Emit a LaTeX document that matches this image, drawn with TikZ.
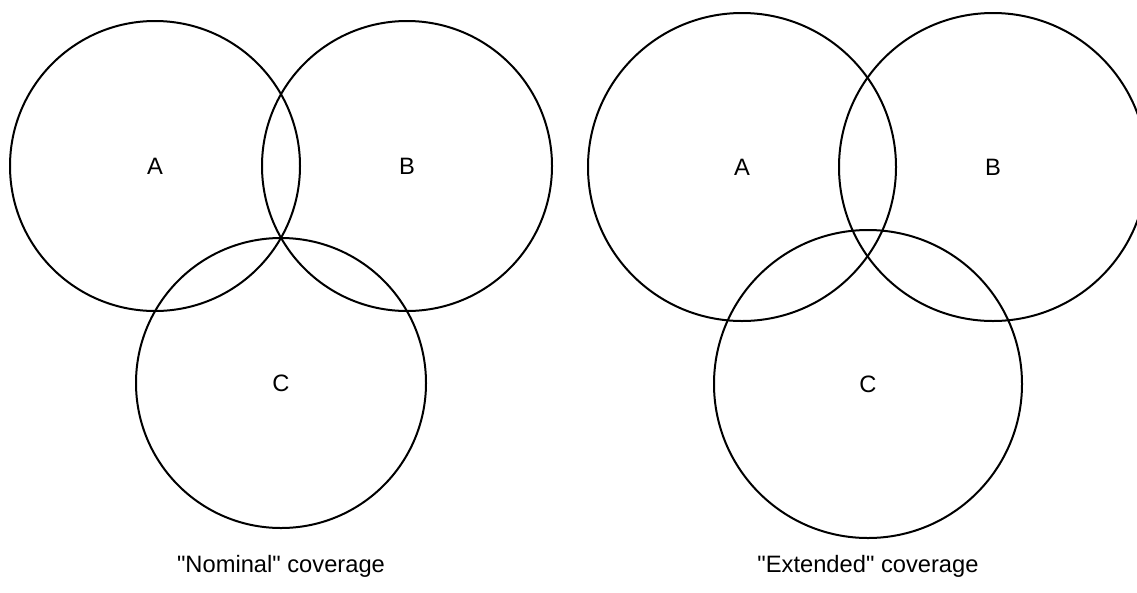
\documentclass[tikz,border=0pt]{standalone}
\usepackage{fontspec}
\setmainfont{Liberation Sans}
\begin{document}
\begin{tikzpicture}[x=1pt,y=-1pt,
  cell/.style={circle,draw=black,line width=2pt,inner sep=0pt,
    font=\fontsize{23.7}{28}\selectfont},
  nominal/.style={cell,minimum size=290pt},
  extended/.style={cell,minimum size=308pt},
  caption/.style={font=\fontsize{23.7}{28}\selectfont}]
  \clip (0,0) rectangle (1137,592);
  \fill[white] (0,0) rectangle (1137,592);
  % nominal coverage
  \node[nominal] (nA) at (155,166) {A};
  \node[nominal] (nB) at (407,166) {B};
  \node[nominal] (nC) at (281,383) {C};
  \node[caption] (nCap) at (281,566) {\textquotedbl Nominal\textquotedbl{} coverage};
  % extended coverage
  \node[extended] (eA) at (742,167) {A};
  \node[extended] (eB) at (993,167) {B};
  \node[extended] (eC) at (868,384) {C};
  \node[caption] (eCap) at (868,566) {\textquotedbl Extended\textquotedbl{} coverage};
\end{tikzpicture}
\end{document}
